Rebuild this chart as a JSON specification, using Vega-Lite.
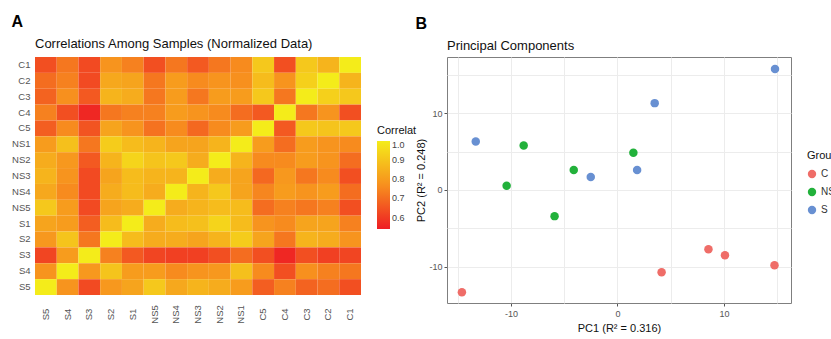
{
  "$schema": "https://vega.github.io/schema/vega-lite/v6.json",
  "background": "white",
  "padding": {"left": 11, "top": 14, "right": 0, "bottom": 0},
  "spacing": -2,
  "config": {
    "font": "Liberation Sans",
    "view": {"stroke": "#7f7f7f", "strokeWidth": 1},
    "title": {"font": "Liberation Sans", "fontWeight": "normal", "color": "#111"},
    "axis": {"labelFont": "Liberation Sans", "titleFont": "Liberation Sans"},
    "legend": {"labelFont": "Liberation Sans", "titleFont": "Liberation Sans"}
  },
  "datasets": {
    "corr": [
      {"r":"C1","c":"S5","v":0.64},{"r":"C1","c":"S4","v":0.72},{"r":"C1","c":"S3","v":0.63},{"r":"C1","c":"S2","v":0.78},{"r":"C1","c":"S1","v":0.74},{"r":"C1","c":"NS5","v":0.64},{"r":"C1","c":"NS4","v":0.72},{"r":"C1","c":"NS3","v":0.66},{"r":"C1","c":"NS2","v":0.72},{"r":"C1","c":"NS1","v":0.76},{"r":"C1","c":"C5","v":0.91},{"r":"C1","c":"C4","v":0.64},{"r":"C1","c":"C3","v":0.91},{"r":"C1","c":"C2","v":0.86},{"r":"C1","c":"C1","v":1.0},
      {"r":"C2","c":"S5","v":0.70},{"r":"C2","c":"S4","v":0.74},{"r":"C2","c":"S3","v":0.63},{"r":"C2","c":"S2","v":0.83},{"r":"C2","c":"S1","v":0.82},{"r":"C2","c":"NS5","v":0.72},{"r":"C2","c":"NS4","v":0.80},{"r":"C2","c":"NS3","v":0.76},{"r":"C2","c":"NS2","v":0.78},{"r":"C2","c":"NS1","v":0.77},{"r":"C2","c":"C5","v":0.88},{"r":"C2","c":"C4","v":0.78},{"r":"C2","c":"C3","v":0.93},{"r":"C2","c":"C2","v":1.0},{"r":"C2","c":"C1","v":0.86},
      {"r":"C3","c":"S5","v":0.68},{"r":"C3","c":"S4","v":0.77},{"r":"C3","c":"S3","v":0.66},{"r":"C3","c":"S2","v":0.86},{"r":"C3","c":"S1","v":0.84},{"r":"C3","c":"NS5","v":0.72},{"r":"C3","c":"NS4","v":0.80},{"r":"C3","c":"NS3","v":0.72},{"r":"C3","c":"NS2","v":0.80},{"r":"C3","c":"NS1","v":0.80},{"r":"C3","c":"C5","v":0.91},{"r":"C3","c":"C4","v":0.72},{"r":"C3","c":"C3","v":1.0},{"r":"C3","c":"C2","v":0.93},{"r":"C3","c":"C1","v":0.91},
      {"r":"C4","c":"S5","v":0.74},{"r":"C4","c":"S4","v":0.64},{"r":"C4","c":"S3","v":0.56},{"r":"C4","c":"S2","v":0.72},{"r":"C4","c":"S1","v":0.74},{"r":"C4","c":"NS5","v":0.74},{"r":"C4","c":"NS4","v":0.80},{"r":"C4","c":"NS3","v":0.78},{"r":"C4","c":"NS2","v":0.76},{"r":"C4","c":"NS1","v":0.70},{"r":"C4","c":"C5","v":0.66},{"r":"C4","c":"C4","v":1.0},{"r":"C4","c":"C3","v":0.72},{"r":"C4","c":"C2","v":0.78},{"r":"C4","c":"C1","v":0.64},
      {"r":"C5","c":"S5","v":0.67},{"r":"C5","c":"S4","v":0.76},{"r":"C5","c":"S3","v":0.65},{"r":"C5","c":"S2","v":0.82},{"r":"C5","c":"S1","v":0.78},{"r":"C5","c":"NS5","v":0.71},{"r":"C5","c":"NS4","v":0.76},{"r":"C5","c":"NS3","v":0.69},{"r":"C5","c":"NS2","v":0.76},{"r":"C5","c":"NS1","v":0.80},{"r":"C5","c":"C5","v":1.0},{"r":"C5","c":"C4","v":0.66},{"r":"C5","c":"C3","v":0.91},{"r":"C5","c":"C2","v":0.90},{"r":"C5","c":"C1","v":0.91},
      {"r":"NS1","c":"S5","v":0.80},{"r":"NS1","c":"S4","v":0.89},{"r":"NS1","c":"S3","v":0.72},{"r":"NS1","c":"S2","v":0.92},{"r":"NS1","c":"S1","v":0.88},{"r":"NS1","c":"NS5","v":0.86},{"r":"NS1","c":"NS4","v":0.82},{"r":"NS1","c":"NS3","v":0.82},{"r":"NS1","c":"NS2","v":0.86},{"r":"NS1","c":"NS1","v":1.0},{"r":"NS1","c":"C5","v":0.80},{"r":"NS1","c":"C4","v":0.70},{"r":"NS1","c":"C3","v":0.80},{"r":"NS1","c":"C2","v":0.78},{"r":"NS1","c":"C1","v":0.76},
      {"r":"NS2","c":"S5","v":0.84},{"r":"NS2","c":"S4","v":0.79},{"r":"NS2","c":"S3","v":0.66},{"r":"NS2","c":"S2","v":0.86},{"r":"NS2","c":"S1","v":0.94},{"r":"NS2","c":"NS5","v":0.90},{"r":"NS2","c":"NS4","v":0.91},{"r":"NS2","c":"NS3","v":0.84},{"r":"NS2","c":"NS2","v":1.0},{"r":"NS2","c":"NS1","v":0.86},{"r":"NS2","c":"C5","v":0.76},{"r":"NS2","c":"C4","v":0.76},{"r":"NS2","c":"C3","v":0.80},{"r":"NS2","c":"C2","v":0.78},{"r":"NS2","c":"C1","v":0.70},
      {"r":"NS3","c":"S5","v":0.86},{"r":"NS3","c":"S4","v":0.78},{"r":"NS3","c":"S3","v":0.63},{"r":"NS3","c":"S2","v":0.82},{"r":"NS3","c":"S1","v":0.88},{"r":"NS3","c":"NS5","v":0.86},{"r":"NS3","c":"NS4","v":0.86},{"r":"NS3","c":"NS3","v":1.0},{"r":"NS3","c":"NS2","v":0.84},{"r":"NS3","c":"NS1","v":0.82},{"r":"NS3","c":"C5","v":0.69},{"r":"NS3","c":"C4","v":0.79},{"r":"NS3","c":"C3","v":0.72},{"r":"NS3","c":"C2","v":0.76},{"r":"NS3","c":"C1","v":0.64},
      {"r":"NS4","c":"S5","v":0.83},{"r":"NS4","c":"S4","v":0.76},{"r":"NS4","c":"S3","v":0.63},{"r":"NS4","c":"S2","v":0.84},{"r":"NS4","c":"S1","v":0.88},{"r":"NS4","c":"NS5","v":0.84},{"r":"NS4","c":"NS4","v":1.0},{"r":"NS4","c":"NS3","v":0.86},{"r":"NS4","c":"NS2","v":0.91},{"r":"NS4","c":"NS1","v":0.82},{"r":"NS4","c":"C5","v":0.75},{"r":"NS4","c":"C4","v":0.80},{"r":"NS4","c":"C3","v":0.78},{"r":"NS4","c":"C2","v":0.80},{"r":"NS4","c":"C1","v":0.70},
      {"r":"NS5","c":"S5","v":0.91},{"r":"NS5","c":"S4","v":0.80},{"r":"NS5","c":"S3","v":0.63},{"r":"NS5","c":"S2","v":0.82},{"r":"NS5","c":"S1","v":0.84},{"r":"NS5","c":"NS5","v":1.0},{"r":"NS5","c":"NS4","v":0.84},{"r":"NS5","c":"NS3","v":0.86},{"r":"NS5","c":"NS2","v":0.88},{"r":"NS5","c":"NS1","v":0.88},{"r":"NS5","c":"C5","v":0.70},{"r":"NS5","c":"C4","v":0.74},{"r":"NS5","c":"C3","v":0.72},{"r":"NS5","c":"C2","v":0.74},{"r":"NS5","c":"C1","v":0.64},
      {"r":"S1","c":"S5","v":0.82},{"r":"S1","c":"S4","v":0.80},{"r":"S1","c":"S3","v":0.67},{"r":"S1","c":"S2","v":0.88},{"r":"S1","c":"S1","v":1.0},{"r":"S1","c":"NS5","v":0.84},{"r":"S1","c":"NS4","v":0.88},{"r":"S1","c":"NS3","v":0.89},{"r":"S1","c":"NS2","v":0.94},{"r":"S1","c":"NS1","v":0.88},{"r":"S1","c":"C5","v":0.78},{"r":"S1","c":"C4","v":0.76},{"r":"S1","c":"C3","v":0.82},{"r":"S1","c":"C2","v":0.82},{"r":"S1","c":"C1","v":0.74},
      {"r":"S2","c":"S5","v":0.79},{"r":"S2","c":"S4","v":0.90},{"r":"S2","c":"S3","v":0.72},{"r":"S2","c":"S2","v":1.0},{"r":"S2","c":"S1","v":0.88},{"r":"S2","c":"NS5","v":0.84},{"r":"S2","c":"NS4","v":0.84},{"r":"S2","c":"NS3","v":0.82},{"r":"S2","c":"NS2","v":0.86},{"r":"S2","c":"NS1","v":0.92},{"r":"S2","c":"C5","v":0.82},{"r":"S2","c":"C4","v":0.72},{"r":"S2","c":"C3","v":0.86},{"r":"S2","c":"C2","v":0.84},{"r":"S2","c":"C1","v":0.78},
      {"r":"S3","c":"S5","v":0.62},{"r":"S3","c":"S4","v":0.80},{"r":"S3","c":"S3","v":1.0},{"r":"S3","c":"S2","v":0.74},{"r":"S3","c":"S1","v":0.66},{"r":"S3","c":"NS5","v":0.62},{"r":"S3","c":"NS4","v":0.61},{"r":"S3","c":"NS3","v":0.61},{"r":"S3","c":"NS2","v":0.64},{"r":"S3","c":"NS1","v":0.70},{"r":"S3","c":"C5","v":0.64},{"r":"S3","c":"C4","v":0.56},{"r":"S3","c":"C3","v":0.64},{"r":"S3","c":"C2","v":0.61},{"r":"S3","c":"C1","v":0.62},
      {"r":"S4","c":"S5","v":0.78},{"r":"S4","c":"S4","v":1.0},{"r":"S4","c":"S3","v":0.79},{"r":"S4","c":"S2","v":0.90},{"r":"S4","c":"S1","v":0.80},{"r":"S4","c":"NS5","v":0.80},{"r":"S4","c":"NS4","v":0.76},{"r":"S4","c":"NS3","v":0.78},{"r":"S4","c":"NS2","v":0.79},{"r":"S4","c":"NS1","v":0.89},{"r":"S4","c":"C5","v":0.76},{"r":"S4","c":"C4","v":0.64},{"r":"S4","c":"C3","v":0.77},{"r":"S4","c":"C2","v":0.74},{"r":"S4","c":"C1","v":0.72},
      {"r":"S5","c":"S5","v":1.0},{"r":"S5","c":"S4","v":0.78},{"r":"S5","c":"S3","v":0.63},{"r":"S5","c":"S2","v":0.79},{"r":"S5","c":"S1","v":0.82},{"r":"S5","c":"NS5","v":0.91},{"r":"S5","c":"NS4","v":0.83},{"r":"S5","c":"NS3","v":0.86},{"r":"S5","c":"NS2","v":0.84},{"r":"S5","c":"NS1","v":0.80},{"r":"S5","c":"C5","v":0.67},{"r":"S5","c":"C4","v":0.74},{"r":"S5","c":"C3","v":0.68},{"r":"S5","c":"C2","v":0.70},{"r":"S5","c":"C1","v":0.64}
    ],
    "pca": [
      {"PC1":14.8,"PC2":15.75,"Group":"S"},
      {"PC1":3.5,"PC2":11.3,"Group":"S"},
      {"PC1":-13.3,"PC2":6.3,"Group":"S"},
      {"PC1":-2.5,"PC2":1.7,"Group":"S"},
      {"PC1":1.85,"PC2":2.6,"Group":"S"},
      {"PC1":-8.8,"PC2":5.8,"Group":"NS"},
      {"PC1":1.5,"PC2":4.85,"Group":"NS"},
      {"PC1":-4.1,"PC2":2.6,"Group":"NS"},
      {"PC1":-10.4,"PC2":0.56,"Group":"NS"},
      {"PC1":-5.9,"PC2":-3.4,"Group":"NS"},
      {"PC1":-14.6,"PC2":-13.3,"Group":"C"},
      {"PC1":4.15,"PC2":-10.7,"Group":"C"},
      {"PC1":8.55,"PC2":-7.7,"Group":"C"},
      {"PC1":10.1,"PC2":-8.5,"Group":"C"},
      {"PC1":14.75,"PC2":-9.8,"Group":"C"}
    ]
  },
  "hconcat": [
    {
      "title": {"text": "A", "anchor": "start", "frame": "bounds", "fontSize": 16, "fontWeight": "bold", "color": "#000", "offset": 8},
      "hconcat": [
        {
          "title": {"text": "Correlations Among Samples (Normalized Data)", "anchor": "start", "frame": "group", "fontSize": 13, "offset": 6},
          "width": 326,
          "height": 238,
          "view": {"stroke": null},
          "data": {"name": "corr"},
          "mark": {"type": "rect", "stroke": null},
          "encoding": {
            "x": {"field": "c", "type": "nominal", "sort": ["S5","S4","S3","S2","S1","NS5","NS4","NS3","NS2","NS1","C5","C4","C3","C2","C1"],
                  "scale": {"paddingInner": 0, "paddingOuter": 0},
                  "axis": {"title": null, "domain": false, "ticks": false, "labelAngle": 270, "labelAlign": "center", "labelBaseline": "middle", "labelPadding": 19, "labelFontSize": 9.5, "labelColor": "#555"}},
            "y": {"field": "r", "type": "nominal", "sort": ["C1","C2","C3","C4","C5","NS1","NS2","NS3","NS4","NS5","S1","S2","S3","S4","S5"],
                  "scale": {"paddingInner": 0, "paddingOuter": 0},
                  "axis": {"title": null, "domain": false, "ticks": false, "labelPadding": 5, "labelFontSize": 9.5, "labelColor": "#555"}},
            "color": {"field": "v", "type": "quantitative",
                      "scale": {"domain": [0.54, 0.77, 1.0], "range": ["#ee1d24", "#f7901e", "#f4ec1a"], "interpolate": "rgb"},
                      "legend": {"title": "Correlat", "orient": "none", "legendX": 342, "legendY": 68, "gradientLength": 88, "gradientThickness": 13, "titleFontSize": 11, "titleFontWeight": "normal", "titleColor": "#111", "labelFontSize": 9, "labelColor": "#444", "values": [0.6, 0.7, 0.8, 0.9, 1.0], "format": ".1f", "labelOverlap": false, "titlePadding": 5}}
          }
        }
      ]
    },
    {
      "title": {"text": "B", "anchor": "start", "frame": "bounds", "fontSize": 16, "fontWeight": "bold", "color": "#000", "offset": 8},
      "hconcat": [
        {
          "title": {"text": "Principal Components", "anchor": "start", "frame": "group", "fontSize": 13, "offset": 4},
          "width": 344,
          "height": 246,
          "data": {"name": "pca"},
          "mark": {"type": "point", "filled": true, "size": 72, "opacity": 1},
          "encoding": {
            "x": {"field": "PC1", "type": "quantitative", "scale": {"domain": [-16, 16.3], "nice": false, "zero": false},
                  "axis": {"title": "PC1 (R² = 0.316)", "titleFontSize": 11, "titleFontWeight": "normal", "titleColor": "#111", "titlePadding": 4,
                           "values": [-15, -10, -5, 0, 5, 10, 15], "labelExpr": "datum.value % 10 === 0 ? replace(format(datum.value, 'd'), '\u2212', '-') : ''",
                           "domain": false, "tickSize": 3, "tickColor": {"condition": {"test": "datum.value % 10 === 0", "value": "#555"}, "value": "transparent"},
                           "labelFontSize": 9, "labelColor": "#555", "labelPadding": 3,
                           "grid": true, "gridColor": "#ececec", "gridWidth": 1}},
            "y": {"field": "PC2", "type": "quantitative", "scale": {"domain": [-14.7, 17.3], "nice": false, "zero": false},
                  "axis": {"title": "PC2 (R² = 0.248)", "titleFontSize": 11, "titleFontWeight": "normal", "titleColor": "#111", "titlePadding": 2,
                           "values": [-15, -10, -5, 0, 5, 10, 15], "labelExpr": "datum.value % 10 === 0 ? replace(format(datum.value, 'd'), '\u2212', '-') : ''",
                           "domain": false, "tickSize": 3, "tickColor": {"condition": {"test": "datum.value % 10 === 0", "value": "#555"}, "value": "transparent"},
                           "labelFontSize": 9, "labelColor": "#555", "labelPadding": 2,
                           "grid": true, "gridColor": "#ececec", "gridWidth": 1}},
            "color": {"field": "Group", "type": "nominal",
                      "scale": {"domain": ["C", "NS", "S"], "range": ["#ef6d68", "#22b13b", "#6890d2"]},
                      "legend": {"title": "Group", "orient": "none", "legendX": 360, "legendY": 93, "titleFontSize": 11, "titleFontWeight": "normal", "titleColor": "#111", "labelFontSize": 10, "labelColor": "#333", "symbolSize": 70, "symbolType": "circle", "rowPadding": 8, "titlePadding": 8}}
          }
        }
      ]
    }
  ]
}
